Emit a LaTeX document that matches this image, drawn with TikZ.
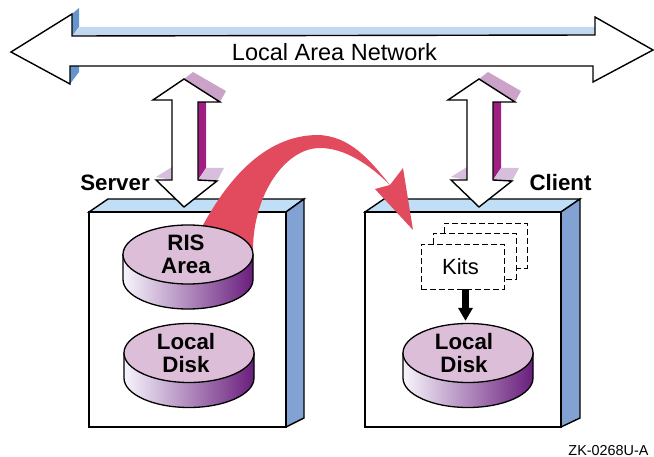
\documentclass[tikz,border=0pt]{standalone}
\usepackage{fontspec}
\setmainfont{Liberation Sans}
\usetikzlibrary{shapes.geometric,arrows.meta}

\definecolor{shadeblue}{RGB}{195,215,240}
\definecolor{edgeblue}{RGB}{100,150,205}
\definecolor{topblue}{RGB}{192,223,246}
\definecolor{sideblue}{RGB}{130,162,212}
\definecolor{shadepurple}{RGB}{203,163,201}
\definecolor{palepurple}{RGB}{215,190,220}
\definecolor{darkmagenta}{RGB}{160,30,130}
\definecolor{disktopcol}{RGB}{221,190,216}
\definecolor{diskleft}{RGB}{247,245,252}
\definecolor{diskmid}{RGB}{190,155,197}
\definecolor{diskright}{RGB}{105,30,125}
\definecolor{bigred}{RGB}{226,74,94}

\tikzset{
  outline/.style={draw=black,line width=1.4pt,line join=miter},
  disktop/.style={ellipse,draw=black,line width=1.3pt,fill=disktopcol,minimum width=130pt,
    minimum height=59pt,inner sep=0pt},
  diskside/.style={draw=black,line width=1.3pt,left color=diskleft,middle color=diskmid,right color=diskright},
  boldlabel/.style={font=\fontsize{22.3}{23}\selectfont\bfseries,inner sep=0pt,align=center},
  kitsheet/.style={draw=black,line width=0.95pt,dash pattern=on 6pt off 3pt}
}

\begin{document}
\begin{tikzpicture}[x=1pt,y=-1pt]
    \useasboundingbox (0,0) rectangle (654,457);
    \def\rx{65pt}    % disk radii
    \def\ry{29.5pt}
    \def\dh{25}      % disk height

    % LAN arrow, shading
    \fill[shadeblue] (72,36) -- (80,27) -- (595,27) -- (595,36) -- cycle;
    \fill[edgeblue] (72,14) -- (79,8) -- (79,27) -- (72,36) -- cycle;
    \fill[edgeblue] (70,66) -- (79,66) -- (79,72) -- (70,84) -- cycle;
    % LAN arrow
    \draw[outline,fill=white] (11,52) -- (72,14) -- (72,36) -- (595,35) -- (595,17) -- (653,50)
        -- (593,82) -- (593,66) -- (70,66) -- (70,84) -- cycle;
    \node[inner sep=0pt,font=\fontsize{23.5}{25}\selectfont] (lan) at (334.5,52) {Local Area Network};

    % Boxes
    \foreach \x/\w in {0/197,276/196} {
        \draw[outline,fill=topblue] (89+\x,212) -- (108+\x,199) -- (304+\x,199) -- (89+\x+\w,212) -- cycle;
        \draw[outline,fill=sideblue] (89+\x+\w,212) -- (304+\x,199) -- (304+\x,418) -- (89+\x+\w,427) -- cycle;
        \draw[outline,fill=white] (89+\x,212) rectangle (89+\x+\w,427);
        \draw[line width=2.2pt] (89+\x,212) -- (89+\x+\w,212);
    }

    % Red curved arrow
    \fill[bigred] (203,225) .. controls (225,185) and (262,135) .. (318,135)
        .. controls (350,136) and (370,160) .. (390,185)
        .. controls (370,165) and (345,148) .. (320,148)
        .. controls (285,148) and (253,195) .. (253,250) -- (205,240) -- cycle;
    \fill[bigred] (403,168) -- (413,230) -- (375,189) -- (390,185) -- cycle;

    % Disks
    \foreach \cx/\cy in {188/254.5,189/353,468/353} {
        \draw[diskside] (\cx-65,\cy) -- (\cx-65,\cy+\dh) arc[start angle=180,end angle=360,x radius=\rx,y radius=\ry]
            -- (\cx+65,\cy) -- cycle;
    }
    \node[disktop] (risarea) at (188,254.5) {};
    \node[disktop] (serverdisk) at (189,353) {};
    \node[disktop] (clientdisk) at (468,353) {};
    \node[boldlabel] (ristext) at (186,254.5) {RIS\\Area};
    \node[boldlabel] (servertext) at (186,353.5) {Local\\Disk};
    \node[boldlabel] (clienttext) at (464,353.5) {Local\\Disk};

    % Up/down arrows
    \foreach \x in {0,295} {
        \fill[shadepurple] (184+\x,79) -- (193+\x,72) -- (226+\x,91) -- (220+\x,102) -- cycle;
        \fill[darkmagenta] (198+\x,102) -- (206+\x,102) -- (206+\x,168) -- (198+\x,180) -- cycle;
        \fill[palepurple] (198+\x,180) -- (206+\x,168) -- (224+\x,168) -- (217+\x,181) -- cycle;
        \fill[palepurple] (156+\x,177) -- (172+\x,167) -- (172+\x,180) -- cycle;
        \draw[outline,fill=white] (184+\x,79) -- (153+\x,100) -- (172+\x,100) -- (172+\x,180) -- (156+\x,180)
            -- (184+\x,207) -- (217+\x,181) -- (198+\x,180) -- (198+\x,102) -- (220+\x,102) -- cycle;
    }

    % Kits
    \draw[kitsheet] (444,233) -- (444,223) -- (527,223) -- (527,268) -- (516,268);
    \draw[kitsheet] (433,244) -- (433,233) -- (516,233) -- (516,279) -- (504,279);
    \node[kitsheet,minimum width=83pt,minimum height=45pt,inner sep=0pt,font=\fontsize{22}{24}\selectfont] (kits) at (462.5,266.5) {\hspace*{-4pt}Kits};
    \draw[line width=7pt,-{Triangle[length=13pt,width=14pt]},shorten >=2pt]
        ([xshift=3pt]kits.south) -- ([xshift=-2.5pt]clientdisk.north);

    % Labels
    \node[boldlabel] (server) at (115,183) {Server};
    \node[boldlabel] (client) at (560.5,183) {Client};
    \node[inner sep=0pt,font=\fontsize{14.4}{16}\selectfont] (figid) at (608.5,450.5) {ZK-0268U-A};
\end{tikzpicture}
\end{document}
